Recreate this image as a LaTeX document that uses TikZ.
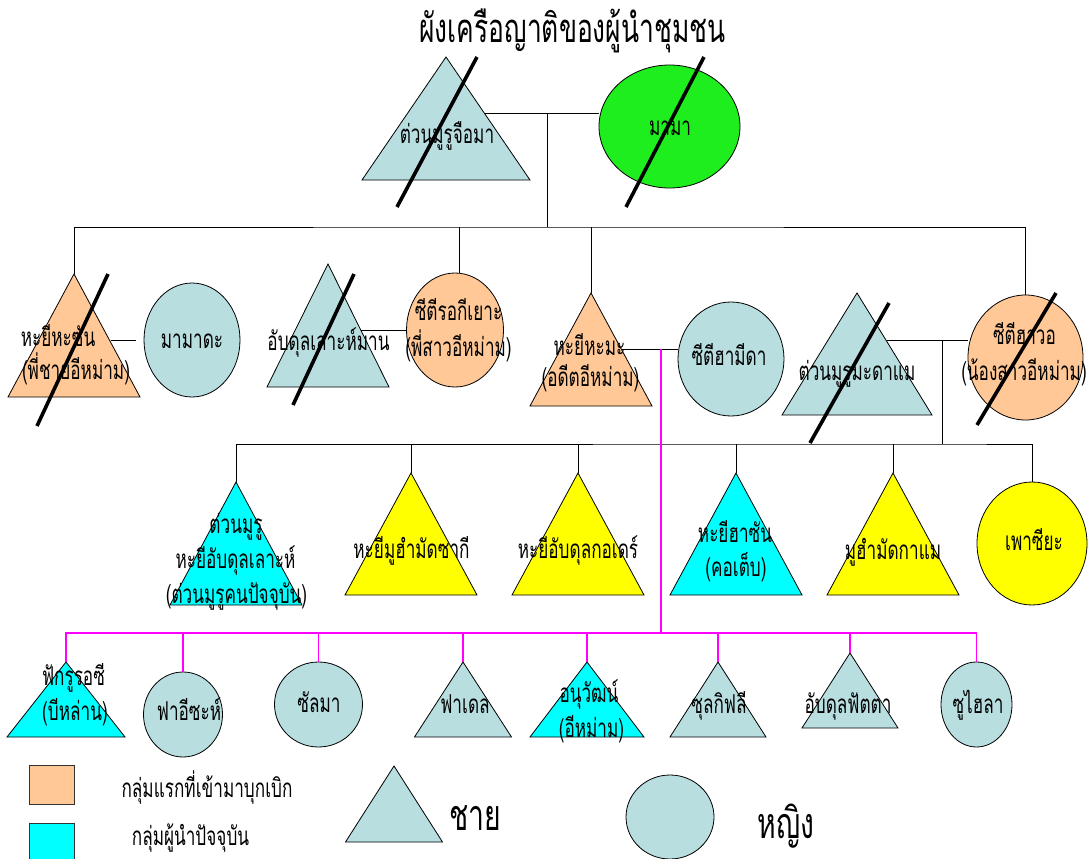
\documentclass[tikz,border=0pt]{standalone}
\usepackage{fontspec}
\newfontfamily\thaifont[Script=Thai,FakeStretch=0.66]{Loma}
\usetikzlibrary{shapes.geometric}

\definecolor{kinblue}{HTML}{B8DEE0}
\definecolor{kinpeach}{HTML}{FFC896}
\definecolor{kingreen}{HTML}{1EEE1E}
\definecolor{kincyan}{HTML}{00FFFF}
\definecolor{kinyellow}{HTML}{FFFF00}
\definecolor{kinpink}{HTML}{FF00FF}

\newcommand{\lblfont}{\thaifont\fontsize{26}{28}\selectfont}
\newcommand{\titlefont}{\thaifont\fontsize{40}{42}\selectfont}
\newcommand{\bigfont}{\thaifont\fontsize{43}{45}\selectfont}
% triangle (man): name, apex x, apex y, half base, height, fill
\newcommand{\kinman}[6]{\filldraw[fill=#6, draw=black, line width=0.8pt] (#2,#3) coordinate (#1) -- ++(#4,#5) -- ++(-2*#4,0) -- cycle;}

\begin{document}
\begin{tikzpicture}[x=1pt, y=-1pt,
    woman/.style={ellipse, draw=black, line width=0.8pt, inner sep=0pt},
    lbl/.style={font=\lblfont, anchor=base, inner sep=0pt},
    tie/.style={draw=black, line width=0.9pt},
    kin/.style={draw=kinpink, line width=1.1pt},
    gone/.style={draw=black, line width=3.6pt}]
  \useasboundingbox[fill=white] (0,0) rectangle (1090,859);

  % generation 1
  \kinman{tuanjuma}{446}{57}{84}{123}{kinblue}
  \node[woman, fill=kingreen, minimum width=141, minimum height=123] (mama) at (669.5,126.5) {};

  % generation 2
  \kinman{hasan}{74}{274}{66}{123}{kinpeach}
  \node[woman, fill=kinblue, minimum width=96, minimum height=114] (mamada) at (192,340) {};
  \kinman{abdulrahman}{328}{264}{61}{123}{kinblue}
  \node[woman, fill=kinpeach, minimum width=97, minimum height=114] (rokiyah) at (455,330) {};
  \kinman{hama}{591}{293}{61}{113}{kinpeach}
  \node[woman, fill=kinblue, minimum width=106, minimum height=114] (hamida) at (731,359) {};
  \kinman{madame}{857}{293}{75}{122}{kinblue}
  \node[woman, fill=kinpeach, minimum width=115, minimum height=125] (hawo) at (1025.5,357.5) {};

  % generation 3
  \kinman{tuanmuru}{236}{482}{66}{123}{kincyan}
  \kinman{zaki}{411}{473}{66}{122}{kinyellow}
  \kinman{kodir}{578}{473}{66}{122}{kinyellow}
  \kinman{hasun}{736}{473}{66}{122}{kincyan}
  \kinman{kame}{893}{473}{66}{122}{kinyellow}
  \node[woman, fill=kinyellow, minimum width=110, minimum height=123] (pausiyah) at (1032,543.5) {};

  % generation 4
  \kinman{fakru}{66}{662}{59}{75}{kincyan}
  \node[woman, fill=kinblue, minimum width=79, minimum height=85] (faisah) at (183,714.5) {};
  \node[woman, fill=kinblue, minimum width=88, minimum height=85] (salma) at (318.5,704.5) {};
  \kinman{fadel}{463}{662}{48.5}{75}{kinblue}
  \kinman{anuwat}{587}{662}{57}{75}{kincyan}
  \kinman{zulkifli}{718}{662}{48}{75}{kinblue}
  \kinman{fatta}{850}{653}{48}{75}{kinblue}
  \node[woman, fill=kinblue, minimum width=71, minimum height=85] (suhaila) at (976.5,704.5) {};

  % key
  \filldraw[fill=kinpeach, draw=black!80, line width=0.8pt] (29,765) rectangle (74,804);
  \filldraw[fill=kincyan, draw=black!80, line width=0.8pt] (29,823) rectangle (74,864);
  \kinman{keyman}{394}{766}{48.5}{76}{kinblue}
  \node[woman, fill=kinblue, minimum width=88, minimum height=84] (keywoman) at (670,817) {};

  % marriages and descent
  \coordinate (wed1) at (484,113);
  \coordinate (fam1) at (547,227);
  \draw[tie] (wed1) -- (wed1 -| mama.west);
  \draw[tie] (wed1 -| fam1) -- (fam1);
  \draw[tie] (hasan) |- (fam1) -| (hawo.north);
  \draw[tie] (rokiyah.north -| 459,0) -- (fam1 -| 459,0);
  \draw[tie] (hama) -- (hama |- fam1);

  \coordinate (wed2) at (111,340);
  \draw[tie, shorten >=8pt] (wed2) -- (wed2 -| mamada.west);
  \coordinate (wed3) at (361,330.5);
  \draw[tie] (wed3) -- (wed3 -| rokiyah.west);
  \coordinate (wed4) at (622,349);
  \draw[tie] (wed4) -- (wed4 -| hamida.west);
  \coordinate (wed5) at (887,340);
  \draw[tie] (wed5) -- (wed5 -| hawo.west);

  \coordinate (fam2) at (942,444);
  \draw[tie] (wed5 -| fam2) -- (fam2);
  \draw[tie] (tuanmuru) |- (fam2) -| (pausiyah.north);
  \draw[tie] (zaki) -- (zaki |- fam2);
  \draw[tie] (kodir) -- (kodir |- fam2);
  \draw[tie] (hasun) -- (hasun |- fam2);
  \draw[tie] (kame) -- (kame |- fam2);

  \coordinate (fam3) at (661,633);
  \draw[kin] (wed4 -| fam3) -- (fam3);
  \draw[kin] (fakru) |- (fam3) -| (suhaila.north);
  \draw[kin] (faisah.north) -- (faisah.north |- fam3);
  \draw[kin] (salma.north) -- (salma.north |- fam3);
  \draw[kin] (fadel) -- (fadel |- fam3);
  \draw[kin] (anuwat) -- (anuwat |- fam3);
  \draw[kin] (zulkifli) -- (zulkifli |- fam3);
  \draw[kin] (fatta) -- (fatta |- fam3);

  % names
  \node[lbl, font=\titlefont] (title) at (572.5,43) {ผังเครือญาติของผู้นำชุมชน};
  \node[lbl] (n-tuanjuma) at (447,143) {ต่วนมูรูจือมา};
  \node[lbl] (n-mama) at (670,135) {มามา};
  \node[lbl] (n-hasan) at (58,346) {หะยีหะซัน};
  \node[lbl] (n-hasan2) at (76,379) {(พี่ชายอีหม่าม)};
  \node[lbl] (n-mamada) at (192,348) {มามาดะ};
  \node[lbl] (n-abdulrahman) at (328.5,350) {อับดุลเลาะห์มาน};
  \node[lbl] (n-rokiyah) at (458.5,320) {ซีตีรอกีเยาะ};
  \node[lbl] (n-rokiyah2) at (458.5,356.5) {(พี่สาวอีหม่าม)};
  \node[lbl] (n-hama) at (589.5,355) {หะยีหะมะ};
  \node[lbl] (n-hama2) at (590.5,386) {(อดีตอีหม่าม)};
  \node[lbl] (n-hamida) at (729,365) {ซีตีฮามีดา};
  \node[lbl] (n-madame) at (857,380) {ต่วนมูรูมะดาแม};
  \node[lbl] (n-hawo) at (1024.5,344) {ซีตีฮาวอ};
  \node[lbl] (n-hawo2) at (1024,380) {(น้องสาวอีหม่าม)};

  \node[lbl] (n-tuanmuru) at (236,533) {ต่วนมูรู};
  \node[lbl] (n-tuanmuru2) at (235.5,568) {หะยีอับดุลเลาะห์};
  \node[lbl] (n-tuanmuru3) at (236.5,603) {(ต่วนมูรูคนปัจจุบัน)};
  \node[lbl] (n-zaki) at (411.5,558) {หะยีมูฮำมัดซากี};
  \node[lbl] (n-kodir) at (578,558) {หะยีอับดุลกอเดร์};
  \node[lbl] (n-hasun) at (735,542) {หะยีฮาซัน};
  \node[lbl] (n-hasun2) at (736,576) {(คอเต็บ)};
  \node[lbl] (n-kame) at (893,559) {มูฮำมัดกาแม};
  \node[lbl] (n-pausiyah) at (1034,550.5) {เพาซียะ};

  \node[lbl] (n-fakru) at (73.5,685) {ฟักรูรอซี};
  \node[lbl] (n-fakru2) at (75,720) {(บีหล่าน)};
  \node[lbl] (n-faisah) at (189,720) {ฟาอีซะห์};
  \node[lbl] (n-salma) at (319,712) {ซัลมา};
  \node[lbl] (n-fadel) at (465,713) {ฟาเดล};
  \node[lbl] (n-anuwat) at (589,702) {อนุวัฒน์};
  \node[lbl] (n-anuwat2) at (591.5,737) {(อีหม่าม)};
  \node[lbl] (n-zulkifli) at (719,713) {ซุลกิฟลี};
  \node[lbl] (n-fatta) at (848,713) {อับดุลฟัตตา};
  \node[lbl] (n-suhaila) at (978,713) {ซูไฮลา};

  \node[lbl] (k-first) at (207,797) {กลุ่มแรกที่เข้ามาบุกเบิก};
  \node[lbl] (k-now) at (190.5,845) {กลุ่มผู้นำปัจจุบัน};
  \node[lbl, font=\bigfont] (k-man) at (475,830) {ชาย};
  \node[lbl, font=\bigfont] (k-woman) at (786,838) {หญิง};

  % deceased
  \draw[gone] (397,207) -- (477,57);
  \draw[gone] (626,207) -- (704,57);
  \draw[gone] (37,426) -- (108,274);
  \draw[gone] (293,405) -- (354,274);
  \draw[gone] (810,443) -- (889,303);
  \draw[gone] (977,425) -- (1056,293);
\end{tikzpicture}
\end{document}
